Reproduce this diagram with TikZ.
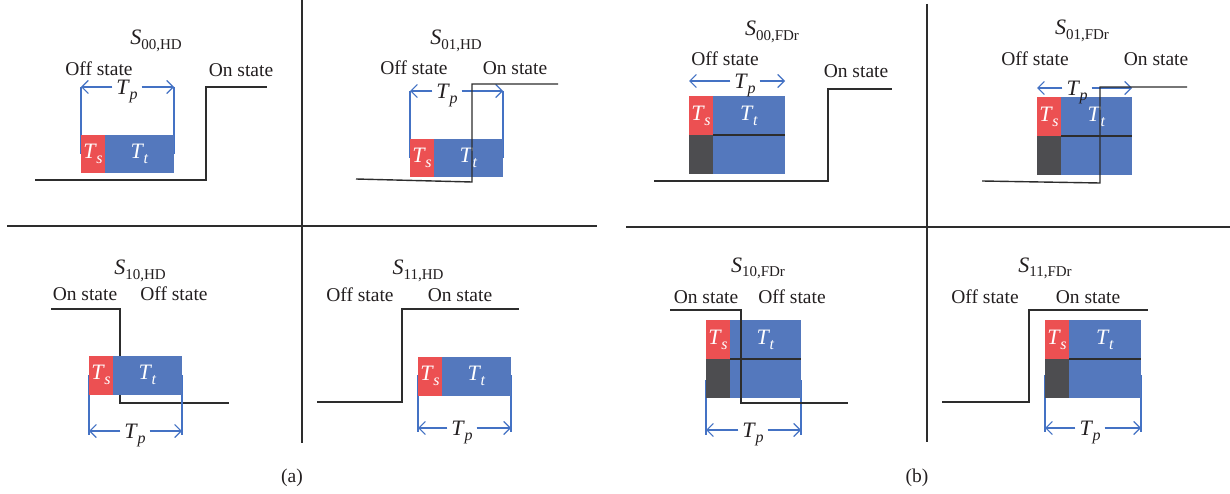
\documentclass[tikz,border=0pt]{standalone}
\usepackage{fontspec}
\setmainfont{Liberation Serif}
\usetikzlibrary{arrows.meta}
\definecolor{redc}{RGB}{236,80,82}
\definecolor{bluec}{RGB}{84,120,189}
\definecolor{darkc}{RGB}{77,77,80}
\definecolor{brkc}{RGB}{68,114,196}
\definecolor{txtc}{RGB}{35,31,32}
\definecolor{linec}{RGB}{45,45,45}
\newcommand\Ttxt[1]{{\fontsize{22}{24}\selectfont\textit{T}}\kern-0.5pt\raisebox{-5pt}{\fontsize{16}{16}\selectfont\textit{#1}}}
\newcommand\Stxt[1]{{\fontsize{22}{24}\selectfont\textit{S}}\raisebox{-5pt}{\fontsize{15}{15}\selectfont #1}}
\tikzset{
  tsbox/.style={fill=redc,minimum width=24pt,inner sep=0pt,text=white,outer sep=0pt},
  ttbox/.style={fill=bluec,minimum width=69pt,inner sep=0pt,text=white,outer sep=0pt},
  dkbox/.style={fill=darkc,minimum width=24pt,inner sep=0pt,outer sep=0pt},
  sepline/.style={draw=linec,line width=1.2pt},
  stepline/.style={draw=linec,line width=1.4pt},
  divline/.style={draw=linec,line width=1.3pt},
  brkline/.style={draw=brkc,line width=1.2pt},
  tparrow/.style={draw=brkc,line width=1.2pt,-{Straight Barb[length=6.5pt,width=13pt]}},
  lbl/.style={anchor=base,text=txtc,inner sep=0pt},
  tplbl/.style={anchor=base,text=txtc,inner xsep=4pt,inner ysep=0pt},
}
% HD boxes: prefix, x, ytop
\newcommand\hdboxes[3]{%
  \node[tsbox,minimum height=38.5pt,anchor=north west] (#1s) at (#2,#3) {\Ttxt{s}};
  \node[ttbox,minimum height=38.5pt,anchor=north west] (#1t) at (#1s.north east) {\Ttxt{t}};}
% FDr boxes: prefix, x, ytop, Tt width
\newcommand\fdboxes[4]{%
  \node[tsbox,minimum height=39pt,anchor=north west] (#1s) at (#2,#3) {\Ttxt{s}};
  \node[ttbox,minimum width=#4pt,minimum height=39pt,anchor=north west] (#1t) at (#1s.north east) {\Ttxt{t}};
  \node[dkbox,minimum height=39pt,anchor=north west] (#1d) at (#1s.south west) {};
  \node[ttbox,minimum width=#4pt,minimum height=39pt,anchor=north west] (#1b) at (#1d.north east) {};
  \draw[sepline] (#1t.south west) -- (#1t.south east);}
% Tp arrows: prefix, xleft, xright, y, xlabel
\newcommand\tparr[5]{%
  \coordinate (#1L) at (#2,#4);
  \coordinate (#1R) at (#3,#4);
  \node[tplbl] (#1p) at (#5,#4+7.5) {\Ttxt{p}};
  \draw[tparrow] (#1p.west |- #1L) -- (#1L);
  \draw[tparrow] (#1p.east |- #1R) -- (#1R);}
% bracket verticals: prefix, xleft, xright, ytop, ybot
\newcommand\tpbrk[5]{%
  \coordinate (#1a) at (#2,#4); \coordinate (#1b) at (#2,#5);
  \coordinate (#1c) at (#3,#4); \coordinate (#1d) at (#3,#5);
  \draw[brkline] (#1a) -- (#1b);
  \draw[brkline] (#1c) -- (#1d);}
\begin{document}
\begin{tikzpicture}[x=1pt,y=-1pt,font=\fontsize{19.5}{22}\selectfont]
\useasboundingbox[fill=white] (0,0) rectangle (1230,494);

% dividers
\coordinate (av1) at (302,0); \coordinate (av2) at (302,443);
\coordinate (ah1) at (7,226); \coordinate (ah2) at (597,226);
\coordinate (bv1) at (927,4); \coordinate (bv2) at (927,442);
\coordinate (bh1) at (626,227); \coordinate (bh2) at (1230,227);
\draw[divline] (av1) -- (av2);
\draw[divline] (ah1) -- (ah2);
\draw[divline] (bv1) -- (bv2);
\draw[divline] (bh1) -- (bh2);
\node[lbl] (capa) at (292,482) {(a)};
\node[lbl] (capb) at (917,482) {(b)};

% ---------- S00,HD ----------
\node[lbl] (t1) at (156,45) {\Stxt{00,HD}};
\node[lbl] (off1) at (99,75.5) {Off state};
\node[lbl] (on1) at (241,76.5) {On state};
\coordinate (s1a) at (35,180); \coordinate (s1b) at (206,180);
\coordinate (s1c) at (206,87); \coordinate (s1d) at (267,87);
\draw[stepline] (s1a) -- (s1b) -- (s1c) -- (s1d);
\tpbrk{k1}{81}{174}{87}{154}
\hdboxes{b1}{81}{135}
\tparr{p1}{81}{174}{87}{127}

% ---------- S01,HD ----------
\node[lbl] (t2) at (456,45) {\Stxt{01,HD}};
\node[lbl] (off2) at (414,75) {Off state};
\node[lbl] (on2) at (515,75) {On state};
\tpbrk{k2}{410}{503}{91}{158}
\hdboxes{b2}{410}{139}
\tparr{p2}{410}{503}{91}{447}
\coordinate (s2a) at (356,179); \coordinate (s2b) at (472,182);
\coordinate (s2c) at (472,84); \coordinate (s2d) at (558,84);
\draw[stepline] (s2a) -- (s2b) -- (s2c) -- (s2d);

% ---------- S10,HD ----------
\node[lbl] (t3) at (140,274) {\Stxt{10,HD}};
\node[lbl] (on3) at (85,300) {On state};
\node[lbl] (off3) at (174,300) {Off state};
\coordinate (s3a) at (51,309); \coordinate (s3b) at (120,309);
\coordinate (s3c) at (120,403); \coordinate (s3d) at (229,403);
\draw[stepline] (s3a) -- (s3b) -- (s3c) -- (s3d);
\tpbrk{k3}{89}{182}{375}{435}
\hdboxes{b3}{89}{356}
\tparr{p3}{89}{182}{431}{135}

% ---------- S11,HD ----------
\node[lbl] (t4) at (418,274) {\Stxt{11,HD}};
\node[lbl] (off4) at (360,301) {Off state};
\node[lbl] (on4) at (460,301) {On state};
\coordinate (s4a) at (317,402); \coordinate (s4b) at (402,402);
\coordinate (s4c) at (402,309); \coordinate (s4d) at (519,309);
\draw[stepline] (s4a) -- (s4b) -- (s4c) -- (s4d);
\tpbrk{k4}{418}{511}{375}{432}
\hdboxes{b4}{418}{357}
\tparr{p4}{418}{511}{428}{462}

% ---------- S00,FDr ----------
\node[lbl] (t5) at (772,35.5) {\Stxt{00,FDr}};
\node[lbl] (off5) at (725,66) {Off state};
\node[lbl] (on5) at (856,78) {On state};
\coordinate (s5a) at (654,181); \coordinate (s5b) at (828,181);
\coordinate (s5c) at (828,89); \coordinate (s5d) at (892,89);
\draw[stepline] (s5a) -- (s5b) -- (s5c) -- (s5d);
\fdboxes{b5}{689}{96}{72}
\tparr{p5}{689}{785}{81}{745}

% ---------- S01,FDr ----------
\node[lbl] (t6) at (1082,35) {\Stxt{01,FDr}};
\node[lbl] (off6) at (1035,66) {Off state};
\node[lbl] (on6) at (1156,66) {On state};
\fdboxes{b6}{1037}{97}{71}
\tparr{p6}{1037}{1132}{88}{1077}
\coordinate (s6a) at (982,181); \coordinate (s6b) at (1100,183);
\coordinate (s6c) at (1100,87); \coordinate (s6d) at (1187,87);
\draw[stepline] (s6a) -- (s6b) -- (s6c) -- (s6d);

% ---------- S10,FDr ----------
\node[lbl] (t7) at (758,272) {\Stxt{10,FDr}};
\node[lbl] (on7) at (706,303) {On state};
\node[lbl] (off7) at (792,303) {Off state};
\tpbrk{k7}{706}{801}{380}{435}
\fdboxes{b7}{706}{320}{71}
\tparr{p7}{706}{801}{430}{753}
\coordinate (s7a) at (670,310); \coordinate (s7b) at (741,310);
\coordinate (s7c) at (741,403); \coordinate (s7d) at (848,403);
\draw[stepline] (s7a) -- (s7b) -- (s7c) -- (s7d);

% ---------- S11,FDr ----------
\node[lbl] (t8) at (1045,272) {\Stxt{11,FDr}};
\node[lbl] (off8) at (985,303) {Off state};
\node[lbl] (on8) at (1088,303) {On state};
\coordinate (s8a) at (942,402); \coordinate (s8b) at (1029,402);
\coordinate (s8c) at (1029,310); \coordinate (s8d) at (1148,310);
\draw[stepline] (s8a) -- (s8b) -- (s8c) -- (s8d);
\tpbrk{k8}{1045}{1141}{375}{432}
\fdboxes{b8}{1045}{320}{72}
\tparr{p8}{1045}{1141}{428}{1090}
\end{tikzpicture}
\end{document}
